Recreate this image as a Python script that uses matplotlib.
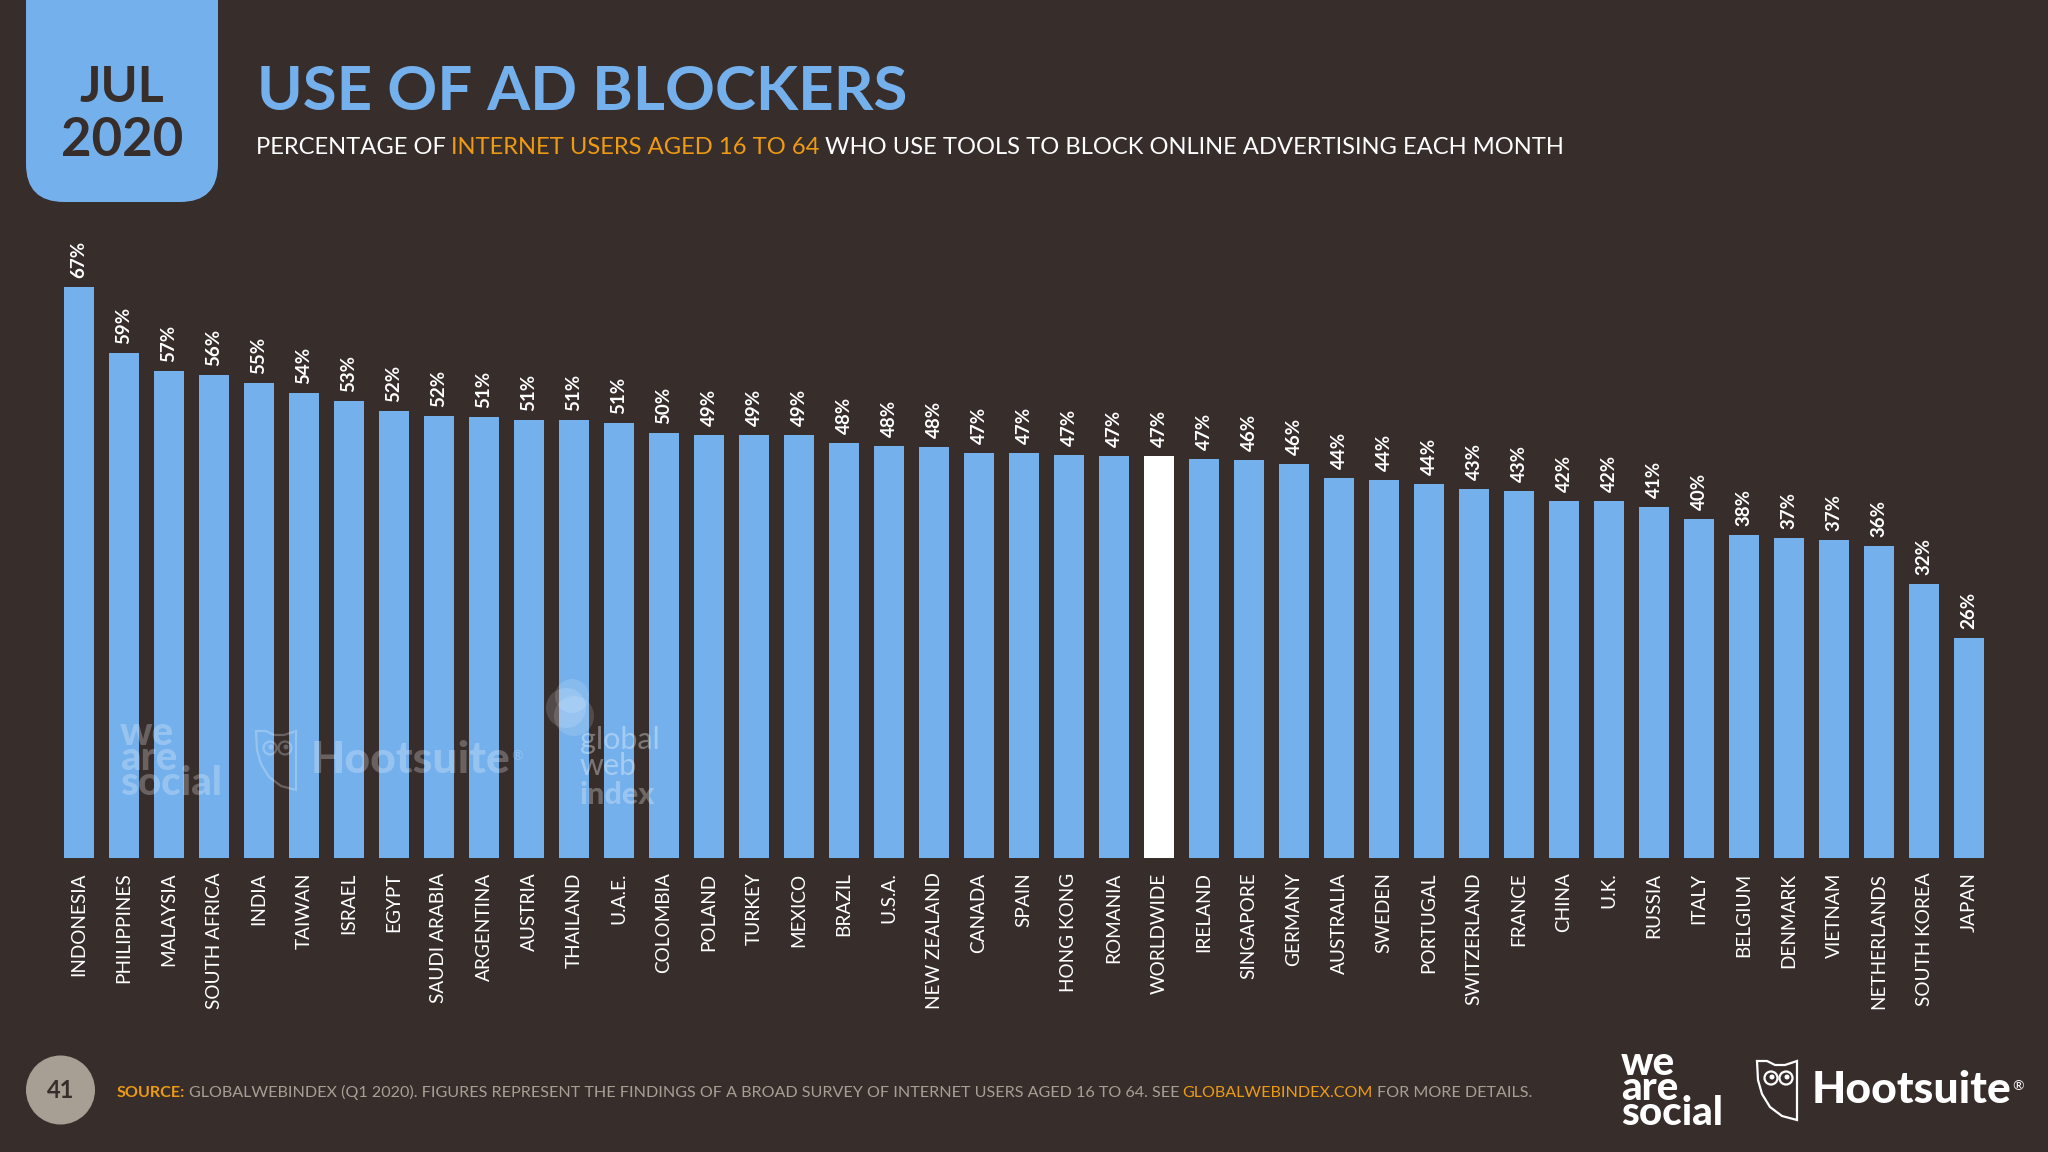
import matplotlib
matplotlib.use("Agg")
import matplotlib.pyplot as plt
from matplotlib.patches import Circle, FancyBboxPatch, Polygon

countries = ["INDONESIA", "PHILIPPINES", "MALAYSIA", "SOUTH AFRICA", "INDIA", "TAIWAN", "ISRAEL",
             "EGYPT", "SAUDI ARABIA", "ARGENTINA", "AUSTRIA", "THAILAND", "U.A.E.", "COLOMBIA",
             "POLAND", "TURKEY", "MEXICO", "BRAZIL", "U.S.A.", "NEW ZEALAND", "CANADA", "SPAIN",
             "HONG KONG", "ROMANIA", "WORLDWIDE", "IRELAND", "SINGAPORE", "GERMANY", "AUSTRALIA",
             "SWEDEN", "PORTUGAL", "SWITZERLAND", "FRANCE", "CHINA", "U.K.", "RUSSIA", "ITALY",
             "BELGIUM", "DENMARK", "VIETNAM", "NETHERLANDS", "SOUTH KOREA", "JAPAN"]
values = [66.6, 58.9, 56.8, 56.3, 55.4, 54.2, 53.3, 52.2, 51.6, 51.4, 51.1, 51.1, 50.7, 49.6,
          49.3, 49.3, 49.3, 48.4, 48.1, 47.9, 47.3, 47.2, 47.0, 46.9, 46.9, 46.6, 46.4, 46.0, 44.3,
          44.1, 43.6, 43.1, 42.8, 41.7, 41.7, 40.9, 39.6, 37.7, 37.3, 37.1, 36.4, 32.0, 25.7]

BG = "#372E2C"
BLUE = "#74B0EC"
ORANGE = "#EE9A12"
GREY = "#A89F94"
W, H = 2048, 1152
SANS = ["Lato", "DejaVu Sans"]

fig = plt.figure(figsize=(W / 100, H / 100), dpi=100, facecolor=BG)

# chart
ax = fig.add_axes([56.5 / W, (H - 858) / H, 1935 / W, 600 / H])
ax.patch.set_visible(False)
colors = ["white" if c == "WORLDWIDE" else BLUE for c in countries]
bars = ax.bar(range(len(values)), values, width=0.675, color=colors)
ax.bar_label(bars, labels=[f"{v:.0f}%" for v in values], rotation=90, padding=6.5,
             color="white", fontsize=13.5, fontweight="bold", family=SANS)
ax.set_xlim(-0.5, len(values) - 0.5)
ax.set_ylim(0, 70)
ax.set_xticks(range(len(values)))
ax.set_xticklabels(countries, rotation=90, color="white", fontsize=13.7, family=SANS)
ax.tick_params(axis="x", length=0, pad=10.5)
ax.set_yticks([])
for s in ax.spines.values():
    s.set_visible(False)

# overlay in pixel coordinates
ov = fig.add_axes([0, 0, 1, 1])
ov.set_xlim(0, W)
ov.set_ylim(H, 0)
ov.axis("off")
ov.patch.set_visible(False)

# date tab
ov.add_patch(FancyBboxPatch((26, -60), 192, 262, boxstyle="round,pad=0,rounding_size=38",
                            fc=BLUE, ec="none"))
ov.text(122, 87, "JUL", ha="center", va="center", color=BG, fontsize=36, fontweight="bold", family=SANS)
ov.text(122, 140, "2020", ha="center", va="center", color=BG, fontsize=38, fontweight="bold", family=SANS)

# title
ov.text(257, 110, "USE OF AD BLOCKERS", color=BLUE, fontsize=44.5, fontweight="bold", family=SANS)


def chain(x, y, parts, size):
    # lay out coloured pieces one after another on one baseline
    r = fig.canvas.get_renderer()
    for s, col, wt in parts:
        t = ov.text(x, y, s, color=col, fontsize=size, fontweight=wt, family=SANS)
        x = t.get_window_extent(r).x1 + size * 0.3


chain(256, 154, [("PERCENTAGE OF", "white", "normal"),
                 ("INTERNET USERS AGED 16 TO 64", ORANGE, "normal"),
                 ("WHO USE TOOLS TO BLOCK ONLINE ADVERTISING EACH MONTH", "white", "normal")], 17.1)
chain(117, 1097, [("SOURCE:", ORANGE, "bold"),
                  ("GLOBALWEBINDEX (Q1 2020). FIGURES REPRESENT THE FINDINGS OF A BROAD SURVEY OF INTERNET USERS AGED 16 TO 64. SEE", GREY, "normal"),
                  ("GLOBALWEBINDEX.COM", ORANGE, "normal"),
                  ("FOR MORE DETAILS.", GREY, "normal")], 11.6)

# page number
ov.add_patch(Circle((60.5, 1090), 34.5, fc=GREY, ec="none"))
ov.text(60.5, 1091, "41", ha="center", va="center", color=BG, fontsize=17, fontweight="bold", family=SANS)


def logos(dx, dy, col, alpha=1.0):
    ov.text(1621 + dx, 1125 + dy, "we\nare\nsocial", color=col, alpha=alpha, fontsize=29, fontweight="black",
            family=SANS, linespacing=0.6, va="baseline")
    outline = [(1757, 1061), (1767, 1061), (1775, 1065), (1785, 1065), (1797, 1061), (1797, 1120),
               (1782, 1116), (1770, 1107), (1762, 1094), (1758, 1080)]
    ov.add_patch(Polygon([(a + dx, b + dy) for a, b in outline], closed=True, fc="none", ec=col,
                         lw=1.6, alpha=alpha))
    for cx in (1771, 1786):
        ov.add_patch(Circle((cx + dx, 1078 + dy), 6.5, fc="none", ec=col, lw=1.6, alpha=alpha))
        ov.add_patch(Circle((cx + dx + 1, 1077 + dy), 2.5, fc=col, ec="none", alpha=alpha))
    ov.text(1812 + dx, 1103 + dy, "Hootsuite", color=col, alpha=alpha, fontsize=32, fontweight="black", family=SANS)
    ov.text(2012 + dx, 1090 + dy, "®", color=col, alpha=alpha, fontsize=10, family=SANS)


logos(0, 0, "white")

# watermarks over the bars
logos(-1501, -330, "white", alpha=0.25)
for cx, cy, r in [(572, 696, 17), (574, 716, 20), (566, 708, 20)]:
    ov.add_patch(Circle((cx, cy), r, fc="white", ec="none", alpha=0.14))
ov.text(580, 775, "global\nweb", color="white", alpha=0.35, fontsize=22, fontweight="normal", family=SANS,
        linespacing=0.9, va="baseline")
ov.text(580, 804, "index", color="white", alpha=0.28, fontsize=22, fontweight="black", family=SANS)

fig.savefig("out.png", dpi=100, facecolor=BG)
